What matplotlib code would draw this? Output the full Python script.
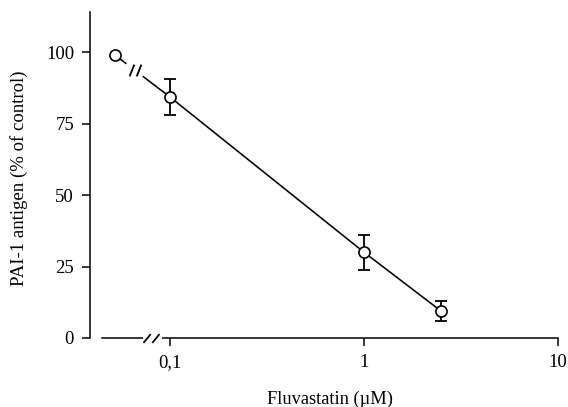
import numpy as np
import matplotlib
matplotlib.use("Agg")
import matplotlib.pyplot as plt
from matplotlib.path import Path

plt.rcParams['font.family'] = ['Liberation Serif', 'DejaVu Serif']

# ---- data ----
control_x   = 0.052          # control (no drug) drawn left of the axis break
control_y   = 99.0
conc        = np.array([0.1, 1.0, 2.5])      # fluvastatin (uM)
pai1        = np.array([84.3, 30.0, 9.4])    # % of control
pai1_err    = np.array([6.3, 6.1, 3.5])

xticks      = [0.1, 1, 10]
xticklabels = ['0,1', '1', '10']
yticks      = [0, 25, 50, 75, 100]

fig = plt.figure(figsize=(5.68, 4.07), dpi=100)
W, H = 568, 407
ax = fig.add_axes([102 / W, (H - 338) / H, (558 - 102) / W, (338 - 12) / H])

ax.set_xscale('log')
ax.set_xlim(0.0447, 10)
ax.set_ylim(0, 114)

lw = 1.15
# main curve through the treated points
ax.plot(conc, pai1, '-', color='black', lw=lw, zorder=2)
ax.errorbar(conc, pai1, yerr=pai1_err, fmt='none', ecolor='black',
            elinewidth=1.3, capsize=4.3, capthick=1.3, zorder=3)
ax.plot(conc, pai1, 'o', ms=8, mfc='white', mec='black', mew=1.2, zorder=4)

# control -> 0.1 connecting line with a break
lx0, lx1 = np.log10(control_x), np.log10(conc[0])
def along(t):
    return 10 ** (lx0 + t * (lx1 - lx0)), control_y + t * (pai1[0] - control_y)

xa, ya = along(0.2)
xb, yb = along(0.52)
ax.plot([control_x, xa], [control_y, ya], '-', color='black', lw=lw, zorder=2)
ax.plot([xb, conc[0]], [yb, pai1[0]], '-', color='black', lw=lw, zorder=2)
ax.plot(control_x, control_y, 'o', ms=8, mfc='white', mec='black', mew=1.2, zorder=4)

# double slash markers
slash_steep = Path([(-1, -1), (-0.2, 1), (0.2, -1), (1, 1)],
                   [Path.MOVETO, Path.LINETO, Path.MOVETO, Path.LINETO])
slash_flat = Path([(-1, -0.55), (-0.1, 0.55), (0.1, -0.55), (1, 0.55)],
                  [Path.MOVETO, Path.LINETO, Path.MOVETO, Path.LINETO])
xs, ys = along(0.36)
ax.plot(xs, ys, marker=slash_steep, ms=8.5, mec='black', mew=1.3, ls='none', zorder=4)

# x-axis break
ax.plot([0.0727, 0.0915], [0, 0], '-', color='white', lw=4,
        clip_on=False, zorder=5, solid_capstyle='butt')
ax.plot(0.0795, 0, marker=slash_flat, ms=11.5, mec='black', mew=1.3, ls='none',
        clip_on=False, zorder=6)

# spines
for s in ['top', 'right']:
    ax.spines[s].set_visible(False)
ax.spines['left'].set_position(('outward', 8.6))
ax.spines['left'].set_linewidth(1.1)
ax.spines['bottom'].set_linewidth(1.1)

ax.set_xticks(xticks)
ax.set_xticklabels(xticklabels)
ax.xaxis.set_minor_locator(matplotlib.ticker.NullLocator())
ax.set_yticks(yticks)
ax.tick_params(axis='both', direction='out', length=5.5, width=1.1,
               labelsize=13.5, colors='black')
ax.tick_params(axis='x', pad=6)
ax.tick_params(axis='y', pad=6)

ax.set_xlabel('Fluvastatin (\u00b5M)', fontsize=13.2, labelpad=14)
ax.set_ylabel('PAI-1 antigen (% of control)', fontsize=13.5)
ax.yaxis.set_label_coords(-(102 - 28) / (558 - 102), (338 - 178) / (338 - 12))

fig.savefig('out.png', dpi=100)
